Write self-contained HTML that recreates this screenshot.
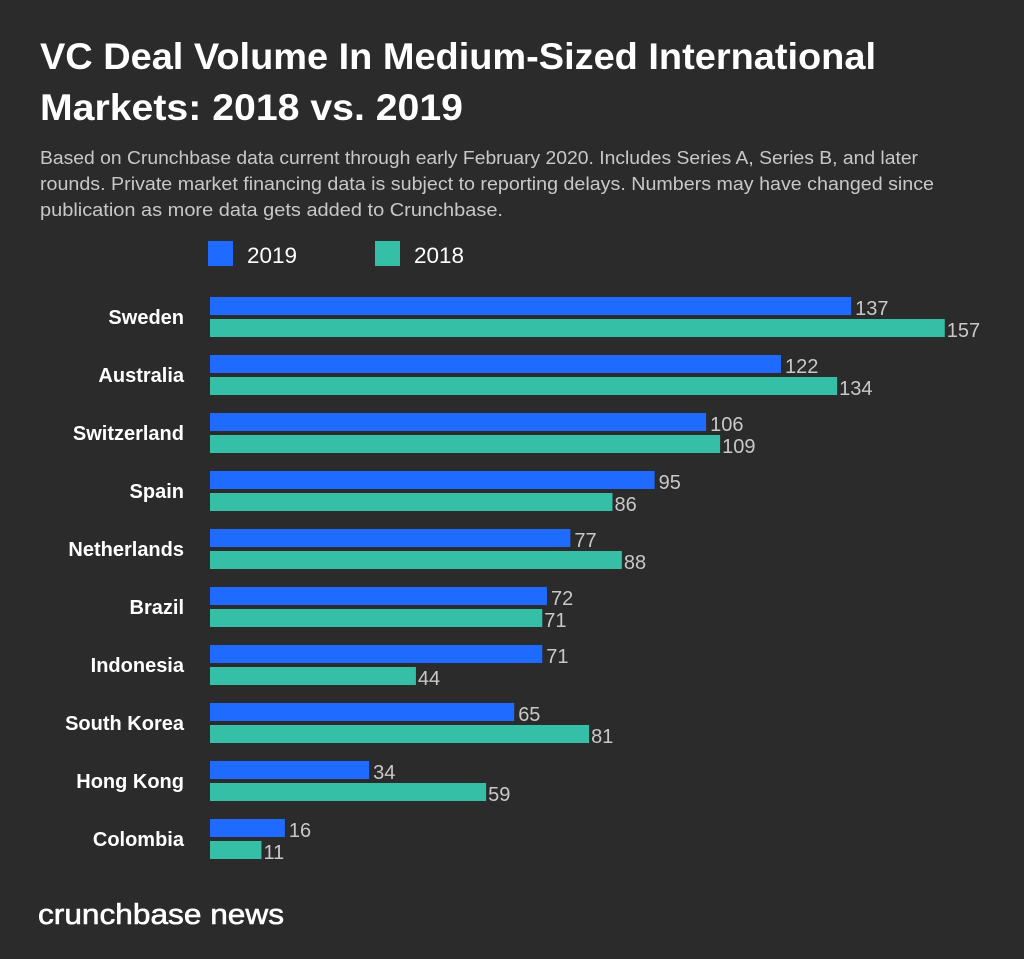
<!DOCTYPE html>
<html><head><meta charset="utf-8"><style>
body{margin:0;background:#2b2b2b;width:1024px;height:954px;overflow:hidden;font-family:"Liberation Sans",sans-serif}
</style></head><body>
<svg width="1024" height="954" xmlns="http://www.w3.org/2000/svg">
<rect width="1024" height="954" fill="#2b2b2b"/>
<text x="40" y="69" fill="#fff" font-size="37.5" font-weight="bold" textLength="836" lengthAdjust="spacingAndGlyphs">VC Deal Volume In Medium-Sized International</text>
<text x="40" y="120" fill="#fff" font-size="37.5" font-weight="bold" textLength="423" lengthAdjust="spacingAndGlyphs">Markets: 2018 vs. 2019</text>
<g fill="#c8c8c8" font-size="18.5">
<text x="40" y="164" textLength="878" lengthAdjust="spacingAndGlyphs">Based on Crunchbase data current through early February 2020. Includes Series A, Series B, and later</text>
<text x="40" y="190" textLength="894" lengthAdjust="spacingAndGlyphs">rounds. Private market financing data is subject to reporting delays. Numbers may have changed since</text>
<text x="40" y="216" textLength="463" lengthAdjust="spacingAndGlyphs">publication as more data gets added to Crunchbase.</text>
</g>
<g>
<rect x="208" y="241" width="25" height="25" fill="#1f6bff"/>
<text x="247" y="263" fill="#fff" font-size="22.5">2019</text>
<rect x="375" y="241" width="25" height="25" fill="#35bfa6"/>
<text x="414" y="263" fill="#fff" font-size="22.5">2018</text>
</g>
<g id="bars"></g>
<text x="38" y="924" fill="#fff" font-size="29" stroke="#fff" stroke-width="0.6" textLength="246" lengthAdjust="spacingAndGlyphs">crunchbase news</text>
</svg>
<script>
const countries=["Sweden","Australia","Switzerland","Spain","Netherlands","Brazil","Indonesia","South Korea","Hong Kong","Colombia"];
const v2019=[137,122,106,95,77,72,71,65,34,16];
const v2018=[157,134,109,86,88,71,44,81,59,11];
const x0=210,k=4.68,y0=297,pitch=58,bh=18;
const xs=v=>x0+v*k;
const ys=i=>y0+i*pitch;
const g=document.getElementById('bars');
const NS="http://www.w3.org/2000/svg";
function mk(tag,attrs){const e=document.createElementNS(NS,tag);for(const a in attrs)e.setAttribute(a,attrs[a]);g.appendChild(e);return e;}
countries.forEach((c,i)=>{
  const y=ys(i);
  const t=mk('text',{x:184,y:y+27,fill:'#fff','font-size':20,'font-weight':'bold','text-anchor':'end'});
  t.textContent=c;
  
  
  const b1=mk('rect',{x:x0,y:y,width:xs(v2019[i])-x0,height:bh,fill:'#1f6bff'});
  
  
  const l1=mk('text',{x:xs(v2019[i])+4,y:y+18,fill:'#c8c8c8','font-size':20});
  l1.textContent=v2019[i];
  
  
  const b2=mk('rect',{x:x0,y:y+22,width:xs(v2018[i])-x0,height:bh,fill:'#35bfa6'});
  
  
  const l2=mk('text',{x:xs(v2018[i])+2,y:y+40,fill:'#c8c8c8','font-size':20});
  l2.textContent=v2018[i];
  
  
});
</script>
</body></html>
